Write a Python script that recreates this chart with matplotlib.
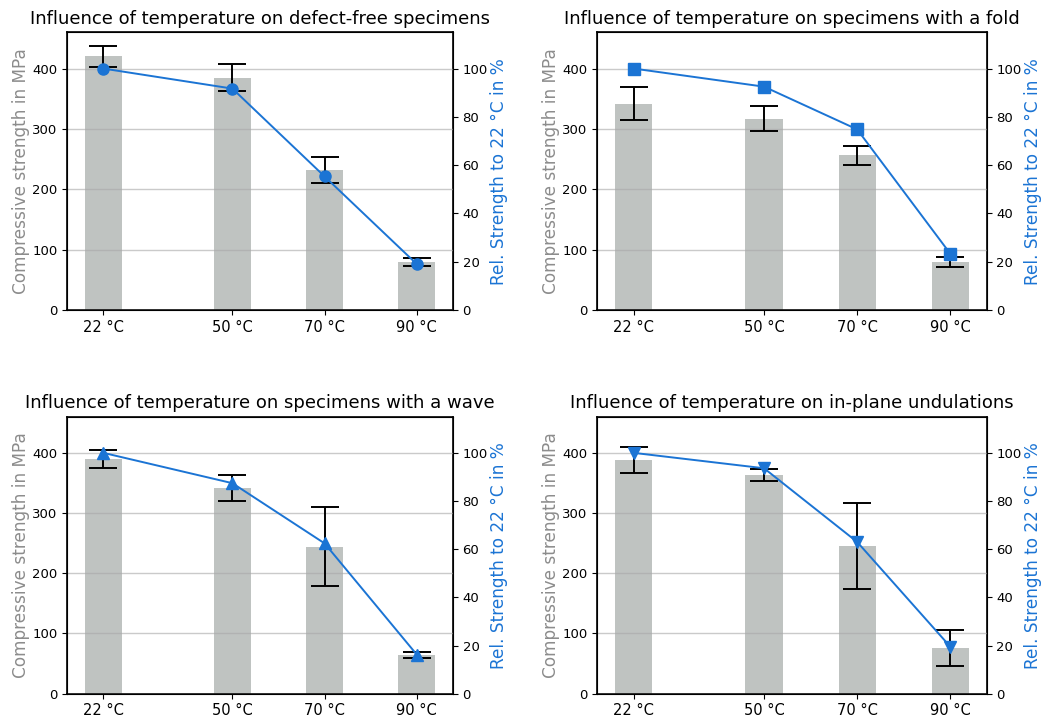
import matplotlib
matplotlib.use("Agg")
import matplotlib.pyplot as plt
import numpy as np

temps = [22, 50, 70, 90]
tick_labels = ["22 °C", "50 °C", "70 °C", "90 °C"]

titles = [
    "Influence of temperature on defect-free specimens",
    "Influence of temperature on specimens with a fold",
    "Influence of temperature on specimens with a wave",
    "Influence of temperature on in-plane undulations",
]

strength_defect_free = [420, 385, 232, 80]
err_defect_free = [18, 22, 21, 7]
rel_defect_free = [100, 91.7, 55.3, 19.0]

strength_fold = [342, 317, 256, 80]
err_fold = [28, 21, 16, 8]
rel_fold = [100, 92.5, 74.8, 23.3]

strength_wave = [390, 342, 244, 64]
err_wave = [15.5, 21.5, 65.5, 5]
rel_wave = [100, 87.4, 62.4, 16.2]

strength_inplane = [388, 363, 245, 76]
err_inplane = [21, 10, 71.5, 29.5]
rel_inplane = [100, 93.6, 63.0, 19.5]

markers = ["o", "s", "^", "v"]

bar_color = "#bfc3c1"
line_color = "#1b74d4"
label_gray = "#8c8c8c"

fig = plt.figure(figsize=(10.54, 7.17), dpi=100)
positions = [
    [0.0639, 0.5676, 0.3657, 0.3873],
    [0.5667, 0.5676, 0.3694, 0.3873],
    [0.0639, 0.0325, 0.3657, 0.3863],
    [0.5667, 0.0325, 0.3694, 0.3863],
]

data = [
    (strength_defect_free, err_defect_free, rel_defect_free),
    (strength_fold, err_fold, rel_fold),
    (strength_wave, err_wave, rel_wave),
    (strength_inplane, err_inplane, rel_inplane),
]

for i, (pos, (s, e, r)) in enumerate(zip(positions, data)):
    ax = fig.add_axes(pos)
    ax.bar(temps, s, width=8, color=bar_color, zorder=1)
    ax.errorbar(temps, s, yerr=e, fmt="none", ecolor="black", elinewidth=1.4,
                capsize=10, capthick=1.4, zorder=3)
    ax.set_ylim(0, 460)
    ax.set_yticks([0, 100, 200, 300, 400])
    ax.grid(axis="y", color="#a8a8a8", alpha=0.6, linewidth=1.0, zorder=2)
    ax.set_axisbelow(False)
    ax.set_xticks(temps)
    ax.set_xticklabels(tick_labels, fontsize=10.5)
    ax.tick_params(axis="y", labelsize=9.5)
    ax.set_ylabel("Compressive strength in MPa", color=label_gray, fontsize=12.2,
                  labelpad=1.5)
    ax.set_title(titles[i], fontsize=13)
    for sp in ax.spines.values():
        sp.set_linewidth(1.2)

    ax2 = ax.twinx()
    ax2.plot(temps, r, color=line_color, marker=markers[i], markersize=8,
             linewidth=1.4, zorder=4)
    ax2.set_ylim(0, 115)
    ax2.set_yticks([0, 20, 40, 60, 80, 100])
    ax2.tick_params(axis="y", labelsize=9.5)
    ax2.set_ylabel("Rel. Strength to 22 °C in %", color=line_color, fontsize=12.2,
                   labelpad=1.5)

fig.savefig("out.png", dpi=100)
